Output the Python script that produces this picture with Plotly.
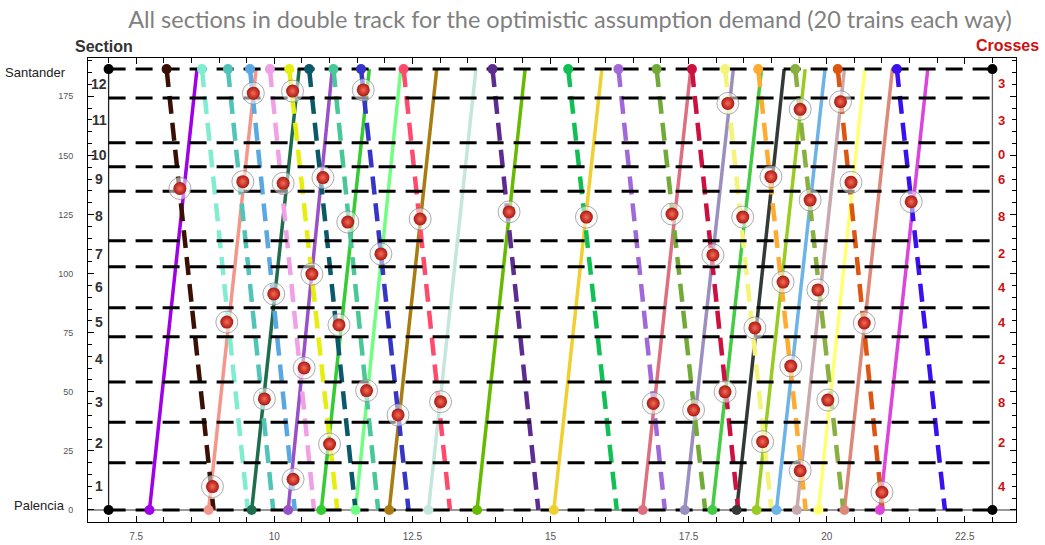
import plotly.graph_objects as go

# Line geometry: station boundaries (km from Palencia)
section_bounds = [0, 20.0, 37.1, 54.1, 73.3, 85.6, 102.9, 113.9, 134.8, 145.2, 155.4, 174.3, 186.5]
section_names = ["1", "2", "3", "4", "5", "6", "7", "8", "9", "10", "11", "12"]
crosses_per_section = [4, 2, 8, 2, 4, 4, 2, 8, 6, 0, 3, 3]

# Up trains (Palencia -> Santander): departure / arrival times
up_dep = [7.74, 8.81, 9.59, 10.25, 10.85, 11.47, 12.08, 12.79, 13.67, 15.06,
          16.67, 17.43, 17.93, 18.37, 18.73, 19.09, 19.46, 19.85, 20.32, 20.96]
up_arr = [8.60, 9.67, 10.45, 11.05, 11.72, 12.29, 12.94, 13.65, 14.54, 15.93,
          17.54, 18.31, 18.82, 19.23, 19.61, 19.97, 20.32, 20.69, 21.19, 21.83]
up_colors = ["#a000e8", "#f4978a", "#1e6e4e", "#9a50c8", "#33cc33", "#70ff80", "#a87c10",
             "#c5e6dc", "#66bb00", "#f0d030", "#dd7080", "#9a8fbf", "#44cc44", "#333a35",
             "#99cc22", "#6cb4e8", "#c8aaae", "#ffff70", "#dd8878", "#dd44dd"]

# Down trains (Santander -> Palencia): departure / arrival times
dn_dep = [8.05, 8.69, 9.16, 9.56, 9.92, 10.27, 10.63, 11.07, 11.57, 12.34,
          13.95, 15.32, 16.23, 16.92, 17.56, 18.16, 18.76, 19.43, 20.20, 21.27]
dn_arr = [8.90, 9.52, 9.98, 10.37, 10.72, 11.14, 11.47, 11.88, 12.43, 13.18,
          14.78, 16.20, 17.07, 17.80, 18.40, 19.00, 19.62, 20.30, 21.01, 22.14]
dn_colors = ["#3a1005", "#80ecd0", "#50c4b8", "#5aa8e2", "#f0a0e6", "#e6ee10", "#0a586a",
             "#48c896", "#3535c8", "#ff4a6c", "#5c2c90", "#10c055", "#a068d8", "#72aa38",
             "#cc1040", "#f4f47a", "#ffaa30", "#88b040", "#dd5510", "#3a10f0"]

# Crossing points (time, km)
cross_t = [8.29, 8.88, 9.14, 9.43, 9.62, 9.82, 9.99, 10.16, 10.33, 10.34, 10.54, 10.68,
           10.88, 11.00, 11.17, 11.33, 11.61, 11.67, 11.93, 12.24, 12.64, 13.01, 14.25,
           15.65, 16.86, 17.20, 17.59, 17.94, 18.16, 18.21, 18.48, 18.70, 18.84, 18.99,
           19.21, 19.35, 19.52, 19.52, 19.70, 19.84, 20.02, 20.25, 20.44, 20.68, 21.00, 21.53]
cross_km = [136.0, 9.9, 79.5, 138.9, 176.3, 47.0, 91.4, 138.2, 177.2, 13.0, 60.1, 99.8,
            140.6, 27.9, 78.3, 121.8, 177.7, 50.5, 108.3, 40.2, 123.1, 45.8, 126.1,
            123.9, 45.1, 125.2, 42.3, 107.9, 50.0, 172.0, 123.9, 77.0, 28.9, 141.0,
            96.4, 60.9, 169.5, 16.6, 131.1, 93.1, 46.5, 172.7, 138.6, 79.1, 7.5, 130.4]

t_start, t_end = 7, 23
L = section_bounds[-1]

W, H = 1045, 545
ML, MR, MT, MB = 88, 29, 58, 23
PW, PH = W - ML - MR, H - MT - MB


def to_paper(px, py):
    """Pixel position in the page -> paper coordinates of the plot area."""
    return (px - ML) / PW, (H - MB - py) / PH


fig = go.Figure()

# terminal station verticals
fig.add_trace(go.Scatter(x=[t_start, t_start], y=[0, L], mode="lines",
                         line=dict(color="#222222", width=1.3), hoverinfo="skip"))
fig.add_trace(go.Scatter(x=[t_end, t_end], y=[0, L], mode="lines",
                         line=dict(color="#666666", width=1.3), hoverinfo="skip"))

# train paths
for d, a, c in zip(up_dep, up_arr, up_colors):
    fig.add_trace(go.Scatter(x=[d, a], y=[0, L], mode="lines",
                             line=dict(color=c, width=3.5)))
for d, a, c in zip(dn_dep, dn_arr, dn_colors):
    fig.add_trace(go.Scatter(x=[d, a], y=[L, 0], mode="lines",
                             line=dict(color=c, width=4.5, dash="18px,9px")))

# section boundaries
for b in section_bounds:
    fig.add_trace(go.Scatter(x=[t_start, t_end], y=[b, b], mode="lines",
                             line=dict(color="black", width=3, dash="17px,10px"),
                             hoverinfo="skip"))

# departure dots
fig.add_trace(go.Scatter(x=up_dep, y=[0] * len(up_dep), mode="markers",
                         marker=dict(size=10, color=up_colors)))
fig.add_trace(go.Scatter(x=dn_dep, y=[L] * len(dn_dep), mode="markers",
                         marker=dict(size=10, color=dn_colors)))

# corner dots
fig.add_trace(go.Scatter(x=[t_start, t_start, t_end, t_end], y=[0, L, 0, L], mode="markers",
                         marker=dict(size=10, color="black")))

# crossings
fig.add_trace(go.Scatter(x=cross_t, y=cross_km, mode="markers",
                         marker=dict(size=22, color="rgba(245,245,245,0.55)",
                                     line=dict(color="rgba(120,120,120,0.6)", width=1))))
fig.add_trace(go.Scatter(x=cross_t, y=cross_km, mode="markers",
                         marker=dict(size=13, color="#a81810",
                                     gradient=dict(type="radial", color="#f86a58"),
                                     line=dict(width=0))))

annotations = []
mids = [(section_bounds[i] + section_bounds[i + 1]) / 2 for i in range(len(section_names))]
for m, name, n in zip(mids, section_names, crosses_per_section):
    annotations.append(dict(x=6.83, y=m, xref="x", yref="y", text="<b>" + name + "</b>",
                            showarrow=False, xanchor="center", yanchor="middle",
                            font=dict(family="Liberation Sans", size=14, color="#333333")))
    annotations.append(dict(x=23.17, y=m, xref="x", yref="y", text="<b>" + str(n) + "</b>",
                            showarrow=False, xanchor="center", yanchor="middle",
                            font=dict(family="Liberation Sans", size=13, color="#cc1111")))

sx, _ = to_paper(68, 0)
annotations.append(dict(x=sx, y=L, xref="paper", yref="y", text="Santander", showarrow=False,
                        xanchor="right", yanchor="middle", yshift=-3,
                        font=dict(family="Liberation Sans", size=13, color="#222222")))
px_, _ = to_paper(67, 0)
annotations.append(dict(x=px_, y=0, xref="paper", yref="y", text="Palencia", showarrow=False,
                        xanchor="right", yanchor="middle", yshift=4,
                        font=dict(family="Liberation Sans", size=13, color="#222222")))
for text, cx, cy, col in [("<b>Section</b>", 104, 47, "#333333"),
                          ("<b>Crosses</b>", 1007, 46, "#cc1111")]:
    ax, ay = to_paper(cx, cy)
    annotations.append(dict(x=ax, y=ay, xref="paper", yref="paper", text=text, showarrow=False,
                            xanchor="center", yanchor="middle",
                            font=dict(family="Liberation Sans", size=16, color=col)))

fig.update_layout(
    width=W, height=H,
    margin=dict(l=ML, r=MR, t=MT, b=MB, autoexpand=False),
    paper_bgcolor="white", plot_bgcolor="white",
    showlegend=False,
    title=dict(text="All sections in double track for the optimistic assumption demand (20 trains each way)",
               x=570 / W, xanchor="center", y=1 - 20 / H, yanchor="middle",
               font=dict(family="Lato", size=23.5, color="#808080")),
    xaxis=dict(range=[6.627, 23.427], showline=True, linecolor="black", linewidth=1,
               mirror="ticks", ticks="inside", ticklen=6, tickcolor="black",
               tick0=0, dtick=2.5, showgrid=False, zeroline=False, automargin=False,
               minor=dict(dtick=0.5, ticks="inside", ticklen=5, tickcolor="black"),
               tickfont=dict(family="Liberation Sans", size=10, color="#555555"),
               ticklabelstandoff=5),
    yaxis=dict(range=[-5.08, 191.2], showline=True, linecolor="black", linewidth=1,
               mirror="ticks", ticks="inside", ticklen=6, tickcolor="black",
               tick0=0, dtick=25, showgrid=False, zeroline=False, automargin=False,
               minor=dict(dtick=5, ticks="inside", ticklen=4, tickcolor="black"),
               tickfont=dict(family="Liberation Sans", size=9, color="#555555"),
               ticklabelstandoff=12),
    shapes=[dict(type="line", xref="paper", yref="y", x0=0, x1=1, y0=0, y1=0,
                 line=dict(color="#777777", width=1.3), layer="below")],
    annotations=annotations,
)

fig.write_html("out.html")
